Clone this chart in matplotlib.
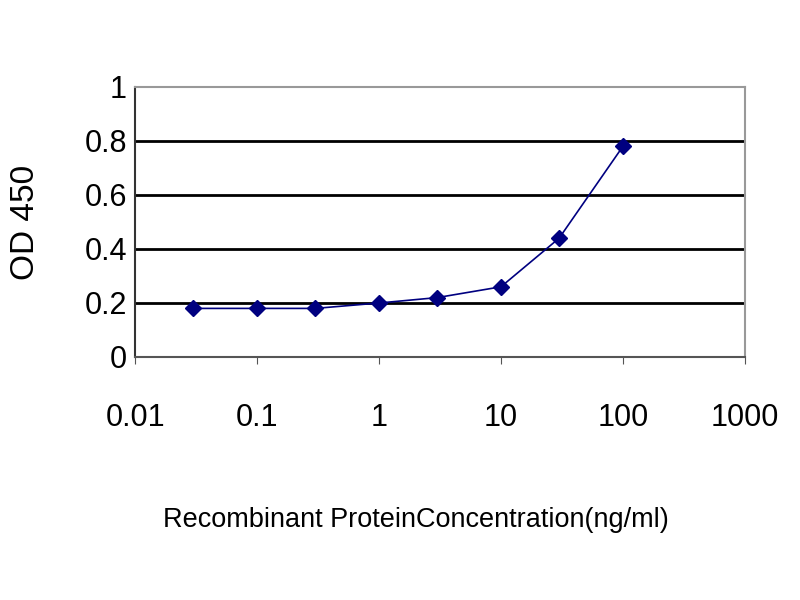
import matplotlib
matplotlib.use('Agg')
import matplotlib.pyplot as plt

# Данные кривой
conc = [0.03, 0.1, 0.3, 1, 3, 10, 30, 100]
od = [0.18, 0.18, 0.18, 0.20, 0.22, 0.26, 0.44, 0.78]
y_ticks = [0, 0.2, 0.4, 0.6, 0.8, 1]
y_tick_labels = ['0', '0.2', '0.4', '0.6', '0.8', '1']
x_ticks = [0.01, 0.1, 1, 10, 100, 1000]
x_tick_labels = ['0.01', '0.1', '1', '10', '100', '1000']

plt.rcParams['font.family'] = ['Liberation Sans', 'DejaVu Sans']

fig = plt.figure(figsize=(8, 6), dpi=100)
ax = fig.add_axes([0.169, 0.405, 0.762, 0.45])

for y in y_ticks[1:-1]:
    ax.axhline(y, color='black', linewidth=2, zorder=1)

ax.plot(conc, od, color='#000080', linewidth=1.2, marker='D', markersize=8,
        markerfacecolor='#000080', markeredgecolor='#000080', zorder=3)

ax.set_xscale('log')
ax.set_xlim(0.01, 1000)
ax.set_ylim(0, 1)
ax.set_xticks(x_ticks)
ax.set_xticklabels(x_tick_labels)
ax.minorticks_off()
ax.set_yticks(y_ticks)
ax.set_yticklabels(y_tick_labels)
ax.tick_params(axis='x', direction='out', length=5, labelsize=22, pad=28, color='#555555')
ax.tick_params(axis='y', length=0, labelsize=22, pad=6)

ax.spines['left'].set_color('#333333')
ax.spines['bottom'].set_color('#555555')
ax.spines['top'].set_color('#999999')
ax.spines['right'].set_color('#999999')
for side in ['left', 'bottom', 'top', 'right']:
    ax.spines[side].set_linewidth(1.5)

ax.set_ylabel('OD 450', fontsize=24)
ax.yaxis.set_label_coords(-0.155, 0.5)
fig.text(0.52, 0.133, 'Recombinant ProteinConcentration(ng/ml)', ha='center', va='center', fontsize=19.5)

plt.savefig('out.png', dpi=100, facecolor='white')
plt.close()
